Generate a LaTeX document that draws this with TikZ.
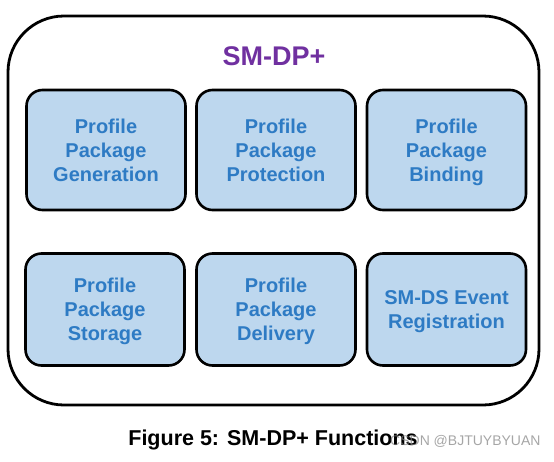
\documentclass[tikz,border=0pt]{standalone}
\usepackage{fontspec}
\setmainfont{Liberation Sans}
\usepackage{tikz}

\definecolor{fnfill}{HTML}{BDD7EE}
\definecolor{fntext}{HTML}{2E7BC4}
\definecolor{dppurple}{HTML}{7030A0}

\tikzset{fn/.style={draw, line width=2.6pt, rounded corners=16pt, fill=fnfill,
  text=fntext, align=center, minimum width=159pt, inner sep=0pt, text depth=0pt,
  font=\bfseries\fontsize{20}{24}\selectfont}}

\begin{document}
\begin{tikzpicture}[x=1pt,y=-1pt]
\useasboundingbox (0,0) rectangle (554,461);
\node[draw, line width=2.8pt, rounded corners=56pt, minimum width=531pt, minimum height=389pt] (dp) at (273.5,210.5) {};
\node[text=dppurple, font=\bfseries\fontsize{27}{32}\selectfont] (title) at (274,56) {SM-DP+};
\node[fn, minimum height=120pt] (gen) at (106,150) {Profile\\Package\\Generation};
\node[fn, minimum height=120pt] (prot) at (276,150) {Profile\\Package\\Protection};
\node[fn, minimum height=120pt] (bind) at (446.5,150) {Profile\\Package\\Binding};
\node[fn, minimum height=112pt] (stor) at (105,309.5) {Profile\\Package\\Storage};
\node[fn, minimum height=112pt] (deliv) at (276,309.5) {Profile\\Package\\Delivery};
\node[fn, minimum height=112pt] (reg) at (446.5,309.5) {SM-DS Event\\Registration};
\node[anchor=base, font=\bfseries\fontsize{21.5}{24}\selectfont] (cap) at (273,445) {Figure 5: SM-DP+ Functions};
\node[anchor=base west, inner sep=0pt, text=gray, text opacity=0.7, font=\fontsize{14}{16}\selectfont] (wm) at (390,445) {CSDN @BJTUYBYUAN};
\end{tikzpicture}
\end{document}
